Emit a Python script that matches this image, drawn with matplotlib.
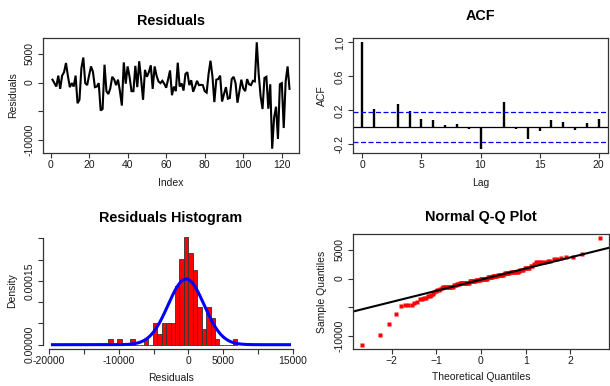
import matplotlib
matplotlib.use("Agg")
import matplotlib.pyplot as plt
import numpy as np
from statistics import NormalDist

plt.rcParams['font.family'] = ['Liberation Sans', 'DejaVu Sans']

# ---------------- data ----------------
residuals = [500, -100, -700, 1200, -1100, 1200, 1800, 3400, 1150, -800,
             -100, -700, 1200, -3600, -3000, 2500, 4350, -100, -450, 1250,
             2800, 1850, -800, -700, -100, -4850, -4600, 3100, -1500, -2000,
             -1000, 1000, 550, -450, 500, -1500, -4000, 3500, -200, 2800,
             1000, -1500, -1500, 2900, -800, 3700, 550, -3000, 2200, 1000,
             1800, 3000, -1100, 2800, 1200, 200, -100, 300, -200, -900,
             550, 2100, -2200, -700, -1500, 3450, -700, -150, -1400, 1500,
             1800, -450, 400, -1600, -700, 300, -450, -400, -450, -1500,
             -1750, 1500, 3800, 1100, -3400, 500, 600, 1200, -3300, -2000,
             -800, -2800, -2700, 600, 1000, -100, -3500, -1500, 500, -1000,
             -1500, 600, -300, -450, 300, 200, 7000, 1500, -2400, -4600,
             800, 1000, -4550, -300, -11500, -6100, -4200, -9800, -300, -100,
             -7900, 200, 2800, -1100]

acf_lags = list(range(0, 21))
acf_values = [1.0, 0.22, 0.005, 0.27, 0.19, 0.095, 0.087, 0.03, 0.035, -0.02,
              -0.25, -0.01, 0.30, -0.02, -0.14, -0.04, 0.087, 0.06, -0.025, 0.05,
              0.095]

hist_n_breaks = 30                 # number of break points
density_curve_range = (-19500, 14500)

p1_xticks = [0, 20, 40, 60, 80, 100, 120]
p1_yticks = [-10000, -5000, 0, 5000]
p1_ylabels = ['-10000', '', '0', '5000']
p2_xticks = [0, 5, 10, 15, 20]
p2_yticks = [-0.2, 0.2, 0.6, 1.0]
p2_ylabels = ['-0.2', '0.2', '0.6', '1.0']
p3_xticks = [-20000, -15000, -10000, -5000, 0, 5000, 10000, 15000]
p3_xlabels = ['-20000', '', '-10000', '', '0', '5000', '', '15000']
p3_yticks = [0, 0.00005, 0.00010, 0.00015, 0.00020, 0.00025]
p3_ylabels = ['0.00000', '', '', '0.00015', '', '']
p4_xticks = [-2, -1, 0, 1, 2]
p4_yticks = [-10000, -5000, 0, 5000]
p4_ylabels = ['-10000', '', '0', '5000']

# ---------------- figure setup ----------------
W, H = 610, 386
fig = plt.figure(figsize=(W / 100, H / 100), dpi=100)

TICK_FS = 7.5
TITLE_FS = 10.4
FRAME = '#333333'


def add_axes_px(left, top, right, bottom):
    return fig.add_axes([left / W, 1 - bottom / H, (right - left) / W, (bottom - top) / H])


def r_ext(lo, hi, f=0.04):
    r = hi - lo
    return lo - f * r, hi + f * r


def style(ax, title, title_y, xlabel, xlab_px, ylabel, ylab_px, box=True):
    for s in ax.spines.values():
        s.set_color(FRAME)
        s.set_linewidth(0.9)
        s.set_visible(box)
    ax.tick_params(direction='out', length=3.5, width=0.8, colors=FRAME,
                   labelcolor='#1a1a1a', labelsize=TICK_FS)
    ax.tick_params(axis='x', pad=1.5)
    ax.tick_params(axis='y', pad=2.3, labelrotation=90)
    for lab in ax.get_yticklabels():
        lab.set_va('center')
    ax.set_title(title, fontsize=TITLE_FS, fontweight='bold', color='black',
                 y=title_y, va='center', pad=0)
    ax.set_xlabel(xlabel, fontsize=TICK_FS, color='#1a1a1a')
    ax.set_ylabel(ylabel, fontsize=TICK_FS, color='#1a1a1a')
    ax.xaxis.label.set_va('center')
    ax.yaxis.label.set_va('center')
    ax.xaxis.set_label_coords(xlab_px[0] / W, 1 - xlab_px[1] / H, transform=fig.transFigure)
    ax.yaxis.set_label_coords(ylab_px[0] / W, 1 - ylab_px[1] / H, transform=fig.transFigure)


res = np.asarray(residuals, dtype=float)
idx = np.arange(1, len(res) + 1)

# ---------------- Panel 1: residual series ----------------
ax1 = add_axes_px(43, 38, 299, 153)
ax1.plot(idx, res, color='black', lw=1.5, solid_joinstyle='miter')
ax1.set_xlim(*r_ext(idx.min(), idx.max()))
ax1.set_ylim(*r_ext(res.min(), res.max()))
ax1.set_xticks(p1_xticks)
ax1.set_yticks(p1_yticks, labels=p1_ylabels)
style(ax1, 'Residuals', (153 - 21) / 115, 'Index', (171, 183), 'Residuals', (12.7, 95.5))

# ---------------- Panel 2: ACF ----------------
ax2 = add_axes_px(353, 38, 608, 153)
n = len(res)
clim = NormalDist().inv_cdf(0.975) / np.sqrt(n)
ax2.vlines(acf_lags, 0, acf_values, color='black', lw=1.7)
ax2.axhline(0, color='black', lw=0.9)
for c in (clim, -clim):
    ax2.axhline(c, color='#0000ee', lw=0.9, ls=(0, (4, 2)))
ax2.set_xlim(*r_ext(min(acf_lags), max(acf_lags)))
ax2.set_ylim(*r_ext(min(min(acf_values), -clim), max(max(acf_values), clim)))
ax2.set_xticks(p2_xticks)
ax2.set_yticks(p2_yticks, labels=p2_ylabels)
style(ax2, 'ACF', (153 - 16) / 115, 'Lag', (480.5, 183), 'ACF', (321.7, 95.5))

# ---------------- Panel 3: histogram ----------------
ax3 = add_axes_px(43, 233, 299, 349)
breaks = np.linspace(res.min(), res.max(), hist_n_breaks)
counts, edges, _ = ax3.hist(res, bins=breaks, density=True, color='#ff0000',
                            edgecolor='#333333', linewidth=0.6)
mu, sd = res.mean(), res.std(ddof=1)
xs = np.linspace(density_curve_range[0], density_curve_range[1], 600)
dens = np.exp(-0.5 * ((xs - mu) / sd) ** 2) / (sd * np.sqrt(2 * np.pi))
ax3.plot(xs, dens, color='#0000ff', lw=2.2)
ax3.set_xlim(*r_ext(*density_curve_range))
ax3.set_ylim(*r_ext(0, counts.max()))
ax3.set_xticks(p3_xticks, labels=p3_xlabels)
ax3.set_yticks(p3_yticks, labels=p3_ylabels)
style(ax3, 'Residuals Histogram', (349 - 218) / 116, 'Residuals', (171, 378),
      'Density', (11.7, 291), box=False)
ax3.spines['left'].set_visible(True)
ax3.spines['bottom'].set_visible(True)
ax3.spines['left'].set_bounds(p3_yticks[0], p3_yticks[-1])
ax3.spines['bottom'].set_bounds(p3_xticks[0], p3_xticks[-1])

# ---------------- Panel 4: normal Q-Q ----------------
ax4 = add_axes_px(353, 234, 609, 349)
nd = NormalDist()
pp = (np.arange(1, n + 1) - 0.5) / n
theo = np.array([nd.inv_cdf(p) for p in pp])
samp = np.sort(res)
ax4.plot(theo, samp, ls='none', marker='s', ms=2.3, color='#ff0000', mec='none')
q1, q3 = np.quantile(res, [0.25, 0.75])
t1, t3 = nd.inv_cdf(0.25), nd.inv_cdf(0.75)
slope = (q3 - q1) / (t3 - t1)
ax4.axline((t1, q1), slope=slope, color='black', lw=1.5)
ax4.set_xlim(*r_ext(theo.min(), theo.max()))
ax4.set_ylim(*r_ext(samp.min(), samp.max()))
ax4.set_xticks(p4_xticks)
ax4.set_yticks(p4_yticks, labels=p4_ylabels)
style(ax4, 'Normal Q-Q Plot', (349 - 217.5) / 115, 'Theoretical Quantiles', (481, 377.5),
      'Sample Quantiles', (321.7, 291.5))

fig.savefig('out.png', dpi=100)
